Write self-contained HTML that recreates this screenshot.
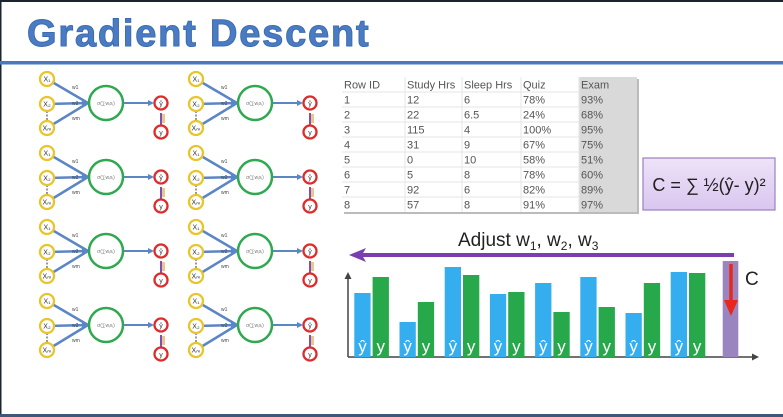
<!DOCTYPE html>
<html><head><meta charset="utf-8">
<style>
body{margin:0;width:783px;height:417px;overflow:hidden;background:#fff;font-family:"Liberation Sans",sans-serif;}
#page{position:relative;width:783px;height:417px;background:#fff;}
svg{position:absolute;left:0;top:0;}
</style></head>
<body>
<div id="page">
<svg id="s" width="783" height="417" viewBox="0 0 783 417">
  <rect x="0" y="0" width="783" height="2" fill="#1c2430"/>
  <rect x="0" y="0" width="1.5" height="417" fill="#1c2430"/>
  <rect x="0" y="414" width="783" height="3" fill="#3f5877"/>
  <text x="27" y="46" font-size="38" font-weight="bold" fill="#4a7cc4" stroke="#3d6bb0" stroke-width="1" letter-spacing="1.8">Gradient Descent</text>
  <rect x="0" y="61" width="783" height="3.5" fill="#4a78c0"/>
  <g id="nets"></g>
  <g id="tbl"></g>
  <g>
    <defs><linearGradient id="pg" x1="0" y1="0" x2="0" y2="1"><stop offset="0" stop-color="#eee3f8"/><stop offset="1" stop-color="#d9c6ef"/></linearGradient></defs>
    <rect x="643" y="158" width="132" height="52" fill="url(#pg)" stroke="#9a80c0" stroke-width="1.2"/>
    <text x="709" y="191" font-size="18" text-anchor="middle" fill="#222">C = ∑ ½(ŷ- y)²</text>
  </g>
  <g id="chart"></g>
</svg>
</div>
<script>
// Chart data
const categories = ["1","2","3","4","5","6","7","8"];
const predicted = [64,35,90,63,74,80,44,85];
const actual = [80,55,82,65,45,50,74,84];
const costValue = 96;
// Table data
const tableHeaders = ["Row ID","Study Hrs","Sleep Hrs","Quiz","Exam"];
const tableRows = [
 ["1","12","6","78%","93%"],["2","22","6.5","24%","68%"],["3","115","4","100%","95%"],
 ["4","31","9","67%","75%"],["5","0","10","58%","51%"],["6","5","8","78%","60%"],
 ["7","92","6","82%","89%"],["8","57","8","91%","97%"]];

const NS="http://www.w3.org/2000/svg";
function mk(tag,attrs,parent,txt){const e=document.createElementNS(NS,tag);for(const k in attrs)e.setAttribute(k,attrs[k]);if(txt!==undefined)e.textContent=txt;parent.appendChild(e);return e;}

// networks
const nets=document.getElementById('nets');
for(let r=0;r<4;r++)for(let c=0;c<2;c++){
  const ox=c*149, oy=r*74;
  const g=mk('g',{transform:`translate(${ox},${oy})`},nets);
  
  
  const blue="#5b86c6";
  [[79],[104],[128]].forEach(([y])=>mk('line',{x1:47,y1:y,x2:88,y2:103,stroke:blue,'stroke-width':2.5},g));
  mk('polygon',{points:"89,103 82,98 82,108",fill:blue},g);
  mk('line',{x1:47,y1:111,x2:47,y2:121,stroke:'#555','stroke-width':1.2,'stroke-dasharray':'2,1.5'},g);
  mk('line',{x1:123,y1:103,x2:150,y2:103,stroke:blue,'stroke-width':2},g);
  mk('polygon',{points:"154,103 148,100 148,106",fill:blue},g);
  mk('line',{x1:161,y1:125,x2:161,y2:113,stroke:'#7e4fb5','stroke-width':2},g);
  mk('rect',{x:162,y:114,width:3,height:9,fill:'#e0b060',opacity:0.7},g);
  [["w1",72,89],["w2",72,105],["wm",72,120]].forEach(([t,x,y])=>mk('text',{x:x,y:y,'font-size':5,fill:'#444'},g,t));
  [["X₁",79],["X₂",104],["Xₘ",128]].forEach(([t,y])=>{
    mk('circle',{cx:47,cy:y,r:7,fill:'#fff',stroke:'#e8c52a','stroke-width':2.3},g);
    mk('text',{x:47,y:y+2.5,'font-size':7,'text-anchor':'middle',fill:'#333'},g,t);});
  mk('circle',{cx:106,cy:103,r:17,fill:'#fff',stroke:'#2fa84f','stroke-width':2.5},g);
  mk('text',{x:106,y:105,'font-size':5,'text-anchor':'middle',fill:'#777'},g,'σ(∑wᵢxᵢ)');
  mk('circle',{cx:161,cy:103,r:6.5,fill:'#fff',stroke:'#e02a2a','stroke-width':2.3},g);
  mk('text',{x:161,y:106,'font-size':7,'text-anchor':'middle',fill:'#333'},g,'ŷ');
  mk('circle',{cx:161,cy:132,r:6.5,fill:'#fff',stroke:'#e02a2a','stroke-width':2.3},g);
  mk('text',{x:161,y:135,'font-size':7,'text-anchor':'middle',fill:'#333'},g,'y');
}

// table
const tbl=document.getElementById('tbl');
const colX=[342,405,462,521,579], tx0=342, tx1=637, ty0=77, rh=15;
mk('rect',{x:tx0+2,y:ty0+2,width:tx1-tx0,height:rh*9,fill:'#bbb'},tbl);
mk('rect',{x:tx0,y:ty0,width:tx1-tx0,height:rh*9,fill:'#fff'},tbl);
mk('rect',{x:579,y:ty0,width:tx1-579,height:rh*9,fill:'#d9d9d9'},tbl);
for(let i=1;i<9;i++)mk('line',{x1:tx0,y1:ty0+i*rh,x2:579,y2:ty0+i*rh,stroke:'#e6e6e6','stroke-width':1},tbl);
colX.slice(1).forEach(x=>mk('line',{x1:x,y1:ty0,x2:x,y2:ty0+rh*9,stroke:'#e6e6e6','stroke-width':1},tbl));
[tableHeaders,...tableRows].forEach((row,i)=>row.forEach((v,j)=>{
  const t=mk('text',{x:colX[j]+2,y:ty0+i*rh+11.5,'font-size':11,fill:'#555'},tbl,v);
  
  
}));

// chart
const ch=document.getElementById('chart');
const baseY=357, yScale=v=>baseY-v, x0=354.3, step=45.2, bw=16.3;
const xPos=i=>x0+i*step;
mk('line',{x1:348,y1:baseY,x2:754,y2:baseY,stroke:'#444','stroke-width':1.5},ch);
mk('polygon',{points:"759,357 752,353.5 752,360.5",fill:'#444'},ch);
mk('line',{x1:348,y1:baseY,x2:348,y2:277,stroke:'#444','stroke-width':1.5},ch);
mk('polygon',{points:"348,272 344.5,279 351.5,279",fill:'#444'},ch);
categories.forEach((c,i)=>{
  const b1=mk('rect',{x:xPos(i),y:yScale(predicted[i]),width:bw,height:baseY-yScale(predicted[i]),fill:'#35aef0'},ch);
  
  
  const b2=mk('rect',{x:xPos(i)+bw+2,y:yScale(actual[i]),width:bw,height:baseY-yScale(actual[i]),fill:'#27a84a'},ch);
  
  
  mk('text',{x:xPos(i)+bw/2,y:352,'font-size':17,'text-anchor':'middle',fill:'#fff'},ch,'ŷ');
  mk('text',{x:xPos(i)+bw*1.5+2,y:352,'font-size':17,'text-anchor':'middle',fill:'#fff'},ch,'y');
});
const cb=mk('rect',{x:722.7,y:yScale(costValue),width:15.6,height:baseY-yScale(costValue),fill:'#9b85bf'},ch);


mk('line',{x1:731,y1:264,x2:731,y2:302,stroke:'#e8281e','stroke-width':3.5},ch);
mk('polygon',{points:"724,300 738,300 731,316",fill:'#e8281e'},ch);
mk('text',{x:745,y:285,'font-size':19,fill:'#222'},ch,'C');
const arr=mk('g',{},ch);


mk('line',{x1:362,y1:255,x2:734,y2:255,stroke:'#7a3fae','stroke-width':4},arr);
mk('polygon',{points:"349,255 366,248 362,255 366,262",fill:'#7a3fae'},arr);
const at=mk('text',{x:458,y:246,'font-size':19,fill:'#222'},ch);
at.innerHTML='Adjust w<tspan font-size="12" dy="4">1</tspan><tspan dy="-4">, w</tspan><tspan font-size="12" dy="4">2</tspan><tspan dy="-4">, w</tspan><tspan font-size="12" dy="4">3</tspan>';


</script>
</body></html>
